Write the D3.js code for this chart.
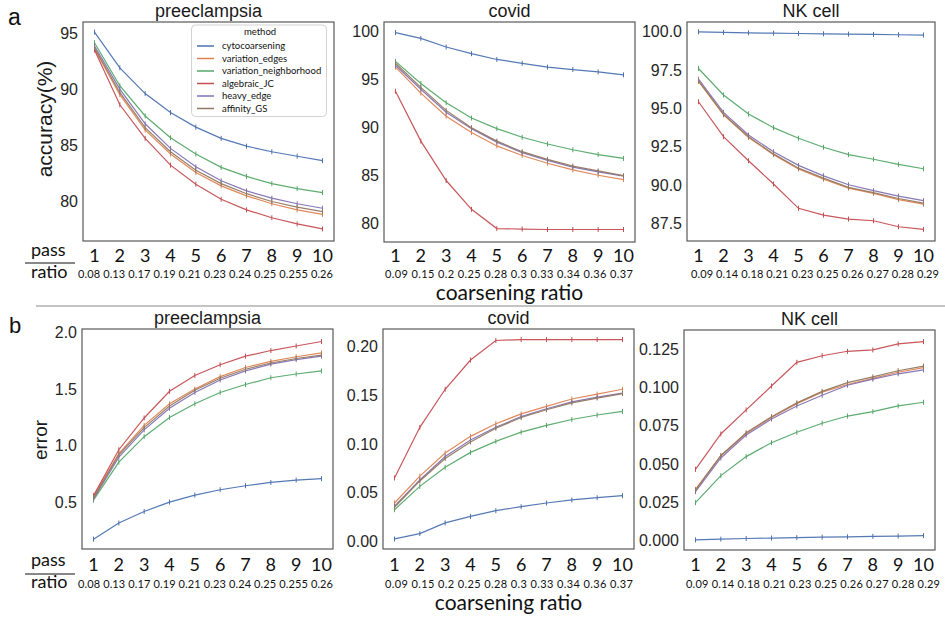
<!DOCTYPE html>
<html>
<head>
<meta charset="utf-8">
<script src="https://cdn.jsdelivr.net/npm/d3@7"></script>
<style>
  html, body { margin: 0; padding: 0; background: #fff; }
  svg { display: block; }
</style>
</head>
<body>
<svg id="chart" width="945" height="618"></svg>
<script>
// ---------------- DATA ----------------
const methods = ["cytocoarsening", "variation_edges", "variation_neighborhood", "algebraic_JC", "heavy_edge", "affinity_GS"];
const colors = ["#4C72B0", "#DD8452", "#55A868", "#C44E52", "#8172B3", "#937860"];
const passes = [1, 2, 3, 4, 5, 6, 7, 8, 9, 10];

const ratioPre   = ["0.08", "0.13", "0.17", "0.19", "0.21", "0.23", "0.24", "0.25", "0.255", "0.26"];
const ratioCovid = ["0.09", "0.15", "0.2", "0.25", "0.28", "0.3", "0.33", "0.34", "0.36", "0.37"];
const ratioNK    = ["0.09", "0.14", "0.18", "0.21", "0.23", "0.25", "0.26", "0.27", "0.28", "0.29"];

// accuracy (%) — rows follow `methods` order
const accPre = [
  [95.1, 91.9, 89.6, 87.9, 86.6, 85.6, 84.9, 84.4, 84.0, 83.6],
  [93.6, 89.5, 86.35, 84.2, 82.55, 81.35, 80.45, 79.75, 79.2, 78.8],
  [94.15, 90.3, 87.6, 85.65, 84.2, 83.0, 82.2, 81.55, 81.1, 80.75],
  [93.5, 88.6, 85.6, 83.2, 81.5, 80.15, 79.2, 78.5, 77.95, 77.5],
  [93.85, 90.0, 86.9, 84.7, 83.05, 81.8, 80.9, 80.25, 79.75, 79.35],
  [93.7, 89.7, 86.55, 84.4, 82.75, 81.55, 80.65, 79.95, 79.45, 79.05]
];
const accCovid = [
  [99.9, 99.3, 98.4, 97.7, 97.1, 96.7, 96.3, 96.05, 95.8, 95.5],
  [96.3, 93.6, 91.2, 89.5, 88.1, 87.1, 86.3, 85.6, 85.05, 84.6],
  [96.9, 94.6, 92.6, 91.0, 89.9, 89.0, 88.3, 87.7, 87.2, 86.8],
  [93.8, 88.6, 84.5, 81.5, 79.5, 79.45, 79.4, 79.4, 79.4, 79.4],
  [96.5, 94.0, 91.6, 89.9, 88.5, 87.4, 86.6, 85.9, 85.4, 84.95],
  [96.7, 94.2, 91.8, 90.0, 88.6, 87.5, 86.7, 86.0, 85.5, 85.0]
];
const accNK = [
  [99.99, 99.95, 99.92, 99.9, 99.88, 99.86, 99.84, 99.82, 99.8, 99.78],
  [96.75, 94.58, 93.1, 91.98, 91.05, 90.38, 89.8, 89.45, 89.05, 88.75],
  [97.6, 95.87, 94.63, 93.74, 93.05, 92.46, 91.98, 91.68, 91.35, 91.06],
  [95.43, 93.15, 91.58, 90.07, 88.48, 88.04, 87.78, 87.67, 87.28, 87.11],
  [96.9, 94.74, 93.26, 92.17, 91.28, 90.6, 90.02, 89.63, 89.28, 88.98],
  [96.8, 94.62, 93.15, 92.03, 91.1, 90.45, 89.85, 89.5, 89.12, 88.82]
];

// error
const errPre = [
  [0.176, 0.318, 0.42, 0.503, 0.565, 0.612, 0.647, 0.676, 0.697, 0.71],
  [0.55, 0.93, 1.18, 1.37, 1.50, 1.61, 1.69, 1.745, 1.785, 1.82],
  [0.52, 0.856, 1.08, 1.25, 1.37, 1.47, 1.54, 1.60, 1.633, 1.66],
  [0.56, 0.965, 1.245, 1.48, 1.62, 1.715, 1.79, 1.84, 1.88, 1.92],
  [0.53, 0.90, 1.14, 1.33, 1.47, 1.58, 1.66, 1.72, 1.76, 1.79],
  [0.54, 0.92, 1.16, 1.35, 1.49, 1.595, 1.675, 1.73, 1.77, 1.80]
];
const errCovid = [
  [0.0025, 0.008, 0.019, 0.0256, 0.0315, 0.0356, 0.0394, 0.0425, 0.0448, 0.0469],
  [0.0394, 0.067, 0.0907, 0.1077, 0.1207, 0.1307, 0.1385, 0.146, 0.151, 0.156],
  [0.0325, 0.0564, 0.076, 0.0913, 0.1026, 0.112, 0.119, 0.125, 0.1296, 0.1333],
  [0.065, 0.117, 0.156, 0.186, 0.206, 0.207, 0.207, 0.207, 0.207, 0.207],
  [0.036, 0.063, 0.087, 0.104, 0.117, 0.128, 0.136, 0.143, 0.148, 0.152],
  [0.035, 0.062, 0.085, 0.102, 0.116, 0.127, 0.135, 0.142, 0.147, 0.1515]
];
const errNK = [
  [0.0005, 0.0010, 0.0014, 0.0017, 0.0020, 0.0023, 0.0025, 0.0028, 0.0030, 0.0033],
  [0.0335, 0.0555, 0.070, 0.0805, 0.0895, 0.097, 0.102, 0.106, 0.110, 0.113],
  [0.0248, 0.0425, 0.0549, 0.064, 0.0708, 0.0767, 0.0814, 0.0843, 0.088, 0.0904],
  [0.0466, 0.0697, 0.0854, 0.101, 0.1165, 0.1208, 0.1237, 0.1246, 0.1285, 0.130],
  [0.032, 0.054, 0.069, 0.0795, 0.088, 0.095, 0.1015, 0.1055, 0.109, 0.1115],
  [0.033, 0.0555, 0.0705, 0.081, 0.090, 0.0975, 0.1032, 0.107, 0.111, 0.114]
];

// tick values
const ticksAccPre = [80, 85, 90, 95];
const ticksAccCovid = [80, 85, 90, 95, 100];
const ticksAccNK = [87.5, 90.0, 92.5, 95.0, 97.5, 100.0];
const ticksErrPre = [0.5, 1.0, 1.5, 2.0];
const ticksErrCovid = [0.00, 0.05, 0.10, 0.15, 0.20];
const ticksErrNK = [0.000, 0.025, 0.050, 0.075, 0.100, 0.125];

// ---------------- LAYOUT ----------------
const SANS = "'Liberation Sans', Arial, Helvetica, sans-serif";
const CAL = "Lato, 'Open Sans', sans-serif";

const panels = [
  {x0: 83, x1: 334, y0: 22, y1: 241, title: "preeclampsia", data: accPre, ticks: ticksAccPre, fmt: d3.format("d"), dom: [76.42, 96.0], ratios: ratioPre, rspan: [78, 333], row: 0, first: true},
  {x0: 384, x1: 635, y0: 22, y1: 242, title: "covid", data: accCovid, ticks: ticksAccCovid, fmt: d3.format("d"), dom: [78.1, 101.0], ratios: ratioCovid, rspan: [385, 633], row: 0, mid: true},
  {x0: 687, x1: 935, y0: 22, y1: 241, title: "NK cell", data: accNK, ticks: ticksAccNK, fmt: d3.format(".1f"), dom: [86.35, 100.63], ratios: ratioNK, rspan: [691, 939], row: 0},
  {x0: 82, x1: 333, y0: 329, y1: 549, title: "preeclampsia", data: errPre, ticks: ticksErrPre, fmt: d3.format(".1f"), dom: [0.089, 2.03], ratios: ratioPre, rspan: [78, 333], row: 1, first: true},
  {x0: 383, x1: 634, y0: 329, y1: 549, title: "covid", data: errCovid, ticks: ticksErrCovid, fmt: d3.format(".2f"), dom: [-0.0078, 0.2178], ratios: ratioCovid, rspan: [385, 633], row: 1, mid: true},
  {x0: 684, x1: 935, y0: 330, y1: 550, title: "NK cell", data: errNK, ticks: ticksErrNK, fmt: d3.format(".3f"), dom: [-0.0061, 0.1376], ratios: ratioNK, rspan: [686, 940], row: 1}
];
const rowY = [
  {digits: 262, pass: 256, rule: 263, ratio: 278, xlabel: 300},
  {digits: 571, pass: 566, rule: 574, ratio: 588, xlabel: 610}
];

const svg = d3.select("#chart");

// separator
svg.append("line").attr("x1", 36).attr("x2", 945).attr("y1", 306).attr("y2", 306)
  .attr("stroke", "#c4c4c4").attr("stroke-width", 2);

// panel letters
svg.append("text").attr("x", 8).attr("y", 25).text("a")
  .attr("font-family", SANS).attr("font-size", 23).attr("fill", "#111");
svg.append("text").attr("x", 9).attr("y", 333).text("b")
  .attr("font-family", SANS).attr("font-size", 22).attr("fill", "#111");

panels.forEach(p => {
  const g = svg.append("g");
  const x = d3.scaleLinear().domain([1, 10]).range([p.x0 + 11.5, p.x1 - 11.5]);
  const y = d3.scaleLinear().domain(p.dom).range([p.y1, p.y0]);

  // y axis tick labels (no tick marks)
  const yAxis = d3.axisLeft(y).tickValues(p.ticks).tickFormat(p.fmt).tickSize(0).tickPadding(5);
  const ga = g.append("g").attr("transform", `translate(${p.x0},0)`).call(yAxis);
  ga.select(".domain").remove();
  ga.selectAll("text").attr("font-family", SANS).attr("font-size", 16).attr("fill", "#262626");

  // lines with small error-bar ticks
  const line = d3.line().x((d, i) => x(passes[i])).y(d => y(d));
  p.data.forEach((series, k) => {
    g.append("path").datum(series).attr("d", line)
      .attr("fill", "none").attr("stroke", colors[k]).attr("stroke-width", 1.2).attr("stroke-opacity", 0.95);
    g.selectAll(null).data(series).enter().append("line")
      .attr("x1", (d, i) => x(passes[i])).attr("x2", (d, i) => x(passes[i]))
      .attr("y1", d => y(d) - 2.5).attr("y2", d => y(d) + 2.5)
      .attr("stroke", colors[k]).attr("stroke-width", 1);
  });

  // frame
  g.append("rect").attr("x", p.x0).attr("y", p.y0).attr("width", p.x1 - p.x0).attr("height", p.y1 - p.y0)
    .attr("fill", "none").attr("stroke", "#595959").attr("stroke-width", 1.2);

  // title
  g.append("text").attr("x", (p.x0 + p.x1) / 2).attr("y", p.y0 - 5).attr("text-anchor", "middle")
    .attr("font-family", SANS).attr("font-size", 18).attr("fill", "#1a1a1a").text(p.title);

  const ry = rowY[p.row];
  // pass digits
  g.selectAll(null).data(passes).enter().append("text")
    .attr("x", d => x(d)).attr("y", ry.digits).attr("text-anchor", "middle")
    .attr("font-family", CAL).attr("font-size", 18).attr("fill", "#111").text(d => d);

  // ratio row
  g.append("text").attr("x", p.rspan[0]).attr("y", ry.ratio)
    .attr("textLength", p.rspan[1] - p.rspan[0]).attr("lengthAdjust", "spacing")
    .attr("font-family", CAL).attr("font-size", 11).attr("fill", "#111")
    .text(p.ratios.join(" "));

  if (p.first) {
    g.append("text").attr("x", 31).attr("y", ry.pass).text("pass")
      .attr("font-family", CAL).attr("font-size", 18).attr("fill", "#111");
    g.append("line").attr("x1", 25).attr("x2", 75).attr("y1", ry.rule).attr("y2", ry.rule)
      .attr("stroke", "#111").attr("stroke-width", 1.2);
    g.append("text").attr("x", 31).attr("y", ry.ratio).text("ratio")
      .attr("font-family", CAL).attr("font-size", 18).attr("fill", "#111");
  }
  if (p.mid) {
    g.append("text").attr("x", (p.x0 + p.x1) / 2).attr("y", ry.xlabel).attr("text-anchor", "middle")
      .attr("font-family", CAL).attr("font-size", 21).attr("fill", "#111").text("coarsening ratio");
  }
});

// y axis titles
svg.append("text").attr("transform", "translate(52,119) rotate(-90)").attr("text-anchor", "middle")
  .attr("font-family", SANS).attr("font-size", 21).attr("fill", "#1a1a1a").text("accuracy(%)");
svg.append("text").attr("transform", "translate(47,440) rotate(-90)").attr("text-anchor", "middle")
  .attr("font-family", SANS).attr("font-size", 19).attr("fill", "#1a1a1a").text("error");

// legend
const lg = svg.append("g");
lg.append("rect").attr("x", 191.5).attr("y", 25).attr("width", 135).attr("height", 91.5).attr("rx", 4)
  .attr("fill", "#fff").attr("fill-opacity", 0.85).attr("stroke", "#d3d3d3").attr("stroke-width", 1);
lg.append("text").attr("x", 260).attr("y", 34.5).attr("text-anchor", "middle")
  .attr("font-family", CAL).attr("font-size", 9.5).attr("fill", "#111").text("method");
methods.forEach((m, i) => {
  const cy = 46 + 12.5 * i;
  lg.append("line").attr("x1", 197).attr("x2", 214).attr("y1", cy).attr("y2", cy)
    .attr("stroke", colors[i]).attr("stroke-width", 1.5);
  lg.append("text").attr("x", 222).attr("y", cy + 3.3)
    .attr("font-family", CAL).attr("font-size", 9.5).attr("fill", "#111").text(m);
});
</script>
</body>
</html>
